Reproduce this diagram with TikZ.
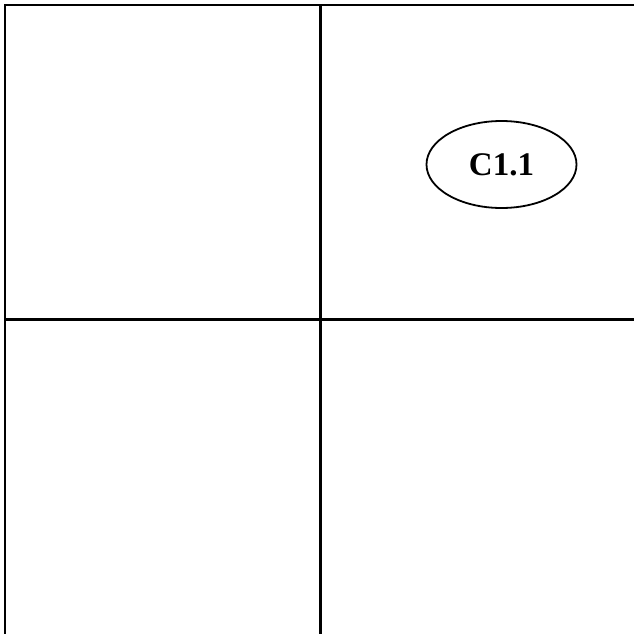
\documentclass[tikz,border=0pt]{standalone}
\usepackage{fontspec}
\setmainfont{Liberation Serif}
\usetikzlibrary{shapes.geometric}
\begin{document}
\begin{tikzpicture}[x=1pt,y=-1pt,
  gridline/.style={draw=black,line width=2.4pt},
  cell/.style={ellipse,draw=black,line width=1.8pt,minimum width=150pt,minimum height=87pt,inner sep=0pt,font=\bfseries\fontsize{33}{36}\selectfont}]
\useasboundingbox (0,0) rectangle (633,634);
\coordinate (tl) at (5,5);
\coordinate (tr) at (634,5);
\coordinate (tm) at (320.5,5);
\coordinate (bm) at (320.5,635);
\coordinate (bl) at (5,635);
\coordinate (ml) at (5,319.5);
\coordinate (mr) at (634,319.5);
\draw[gridline] (tr) -- (tl) -- (bl);
\draw[gridline] (tm) -- (bm);
\draw[gridline] (ml) -- (mr);
\node[cell] (c11) at (501.5,164.5) {C1.1};
\end{tikzpicture}
\end{document}
